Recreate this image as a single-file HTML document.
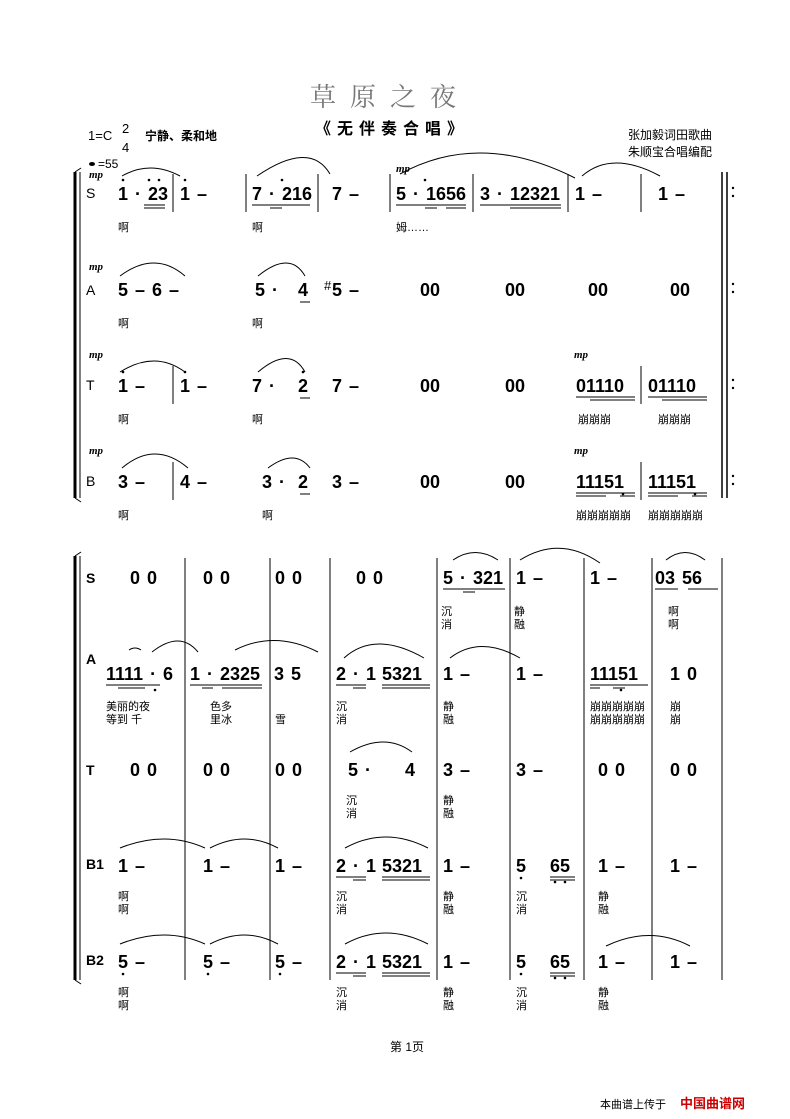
<!DOCTYPE html>
<html><head><meta charset="utf-8"><style>
html,body{margin:0;padding:0;background:#fff}
svg{display:block}
.n{font-family:"Liberation Sans",sans-serif;font-weight:bold;font-size:18px;fill:#000;white-space:pre;word-spacing:2px}
.l{font-family:"Liberation Sans","Noto Sans CJK SC",sans-serif;font-size:11px;fill:#000}
.d{font-family:"Liberation Serif",serif;font-style:italic;font-weight:bold;font-size:11px}
</style></head><body>
<svg width="790" height="1119" xmlns="http://www.w3.org/2000/svg" stroke="#000" fill="none">
<g stroke="none" fill="#000">
<text x="390" y="106" text-anchor="middle" style="font-family:'Noto Serif CJK SC',serif;font-size:26px;letter-spacing:14px;fill:#777">草原之夜</text>
<text x="392" y="134" text-anchor="middle" style="font-family:'Liberation Sans','Noto Sans CJK SC',sans-serif;font-size:16px;font-weight:bold;letter-spacing:6px">《无伴奏合唱》</text>
<text x="88" y="140" style="font-family:'Liberation Sans',sans-serif;font-size:13px">1=C</text>
<text x="122" y="133" style="font-family:'Liberation Sans',sans-serif;font-size:13px">2</text>
<text x="122" y="152" style="font-family:'Liberation Sans',sans-serif;font-size:13px">4</text>
<text x="145" y="140" style="font-family:'Noto Sans CJK SC',sans-serif;font-size:12px;font-weight:bold">宁静、柔和地</text>
<text x="628" y="139" class="l" style="font-size:12px">张加毅词田歌曲</text>
<text x="628" y="156" class="l" style="font-size:12px">朱顺宝合唱编配</text>
<ellipse cx="92" cy="164" rx="3" ry="2"/>
<text x="98" y="168" style="font-family:'Liberation Sans',sans-serif;font-size:12px">=55</text>
<text x="390" y="1051" class="l" style="font-size:12px">第 1页</text>
<text x="600" y="1108" class="l" style="font-size:11px">本曲谱上传于</text>
<text x="680" y="1108" style="font-family:'Noto Sans CJK SC',sans-serif;font-size:13px;font-weight:bold;fill:#c00">中国曲谱网</text>
</g>
<line x1="75" y1="172" x2="75" y2="498" stroke-width="3"/><line x1="80" y1="172" x2="80" y2="498"/>
<path d="M75 172 l6 -4 M75 498 l6 4"/>
<line x1="75" y1="556" x2="75" y2="980" stroke-width="3"/><line x1="80" y1="556" x2="80" y2="980"/>
<path d="M75 556 l6 -4 M75 980 l6 4"/>
<g>
<path d="M173 174V212 M246 174V212 M318 174V212 M390 174V212 M473 174V212 M568 174V212 M641 174V212"/>
<path d="M173 366V404 M641 366V404 M173 462V500 M641 462V500"/>
<path d="M722 172V498 M727 172V498" stroke-width="1.5"/>
</g>
<g stroke="none" fill="#000">
<circle cx="733" cy="188" r="1.2"/><circle cx="733" cy="196" r="1.2"/>
<circle cx="733" cy="284" r="1.2"/><circle cx="733" cy="292" r="1.2"/>
<circle cx="733" cy="380" r="1.2"/><circle cx="733" cy="388" r="1.2"/>
<circle cx="733" cy="476" r="1.2"/><circle cx="733" cy="484" r="1.2"/>
</g>
<g class="n" stroke="none">
<text x="86" y="198" style="font-weight:normal;font-size:14px">S</text>
<text x="118" y="200">1 · 23</text><text x="180" y="200">1  –</text>
<text x="252" y="200">7 · 216</text><text x="332" y="200">7  –</text>
<text x="396" y="200">5 · 1656</text><text x="480" y="200">3 · 12321</text>
<text x="575" y="200">1  –</text><text x="658" y="200">1  –</text>
<text x="86" y="295" style="font-weight:normal;font-size:14px">A</text>
<text x="118" y="296">5  –   6  –</text><text x="255" y="296">5 ·</text><text x="298" y="296">4</text>
<text x="324" y="290" style="font-size:13px;font-weight:normal">#</text><text x="332" y="296">5  –</text>
<text x="420" y="296">00</text><text x="505" y="296">00</text><text x="588" y="296">00</text><text x="670" y="296">00</text>
<text x="86" y="390" style="font-weight:normal;font-size:14px">T</text>
<text x="118" y="392">1  –</text><text x="180" y="392">1  –</text>
<text x="252" y="392">7 ·</text><text x="298" y="392">2</text><text x="332" y="392">7  –</text>
<text x="420" y="392">00</text><text x="505" y="392">00</text>
<text x="576" y="392">01110</text><text x="648" y="392">01110</text>
<text x="86" y="486" style="font-weight:normal;font-size:14px">B</text>
<text x="118" y="488">3  –</text><text x="180" y="488">4  –</text>
<text x="262" y="488">3 ·</text><text x="298" y="488">2</text><text x="332" y="488">3  –</text>
<text x="420" y="488">00</text><text x="505" y="488">00</text>
<text x="576" y="488">11151</text><text x="648" y="488">11151</text>
</g>
<g stroke="none" fill="#000">
<circle cx="123" cy="180" r="1.3"/><circle cx="149" cy="180" r="1.3"/><circle cx="159" cy="180" r="1.3"/><circle cx="185" cy="180" r="1.3"/>
<circle cx="282" cy="180" r="1.3"/><circle cx="425" cy="180" r="1.3"/>
<circle cx="123" cy="372" r="1.3"/><circle cx="185" cy="372" r="1.3"/><circle cx="303" cy="372" r="1.3"/>
<circle cx="623" cy="494" r="1.3"/><circle cx="695" cy="494" r="1.3"/>
</g>
<g class="d" stroke="none" fill="#000">
<text x="89" y="178">mp</text><text x="89" y="270">mp</text><text x="89" y="358">mp</text><text x="89" y="454">mp</text>
<text x="396" y="172">mp</text><text x="574" y="358">mp</text><text x="574" y="454">mp</text>
</g>
<path d="M144 205H165 M144 208H165 M252 205H310 M270 208H282 M396 205H466 M425 208H437 M446 208H466 M480 205H561 M510 208H561
M576 397H635 M590 400H635 M648 397H707 M662 400H707 M576 493H635 M576 496H606 M620 496H635 M648 493H707 M648 496H678 M692 496H707 M300 302H310 M300 398H310 M300 494H310"/>
<path d="M122 176Q150 160 180 176 M257 176Q310 140 330 174 M400 174Q480 130 575 178 M582 176Q612 150 660 176
M120 276Q155 250 185 276 M258 276Q290 250 305 276 M120 372Q155 350 185 372 M258 372Q290 345 305 372 M122 468Q155 440 188 468 M268 468Q295 448 310 468"/>
<g class="l" stroke="none">
<text x="118" y="231">啊</text><text x="252" y="231">啊</text><text x="396" y="231">姆……</text>
<text x="118" y="327">啊</text><text x="252" y="327">啊</text>
<text x="118" y="423">啊</text><text x="252" y="423">啊</text><text x="578" y="423">崩崩崩</text><text x="658" y="423">崩崩崩</text>
<text x="118" y="519">啊</text><text x="262" y="519">啊</text><text x="576" y="519">崩崩崩崩崩</text><text x="648" y="519">崩崩崩崩崩</text>
</g>
<path d="M185 558V980 M270 558V980 M330 558V980 M437 558V980 M510 558V980 M584 558V980 M652 558V980 M722 558V980"/>
<g class="n" stroke="none">
<text x="86" y="583" style="font-size:14px">S</text>
<text x="130" y="584">0  0</text><text x="203" y="584">0  0</text><text x="275" y="584">0     0</text><text x="356" y="584">0     0</text>
<text x="443" y="584">5 · 321</text><text x="516" y="584">1  –</text><text x="590" y="584">1  –</text><text x="655" y="584">03  56</text>
<text x="86" y="664" style="font-size:14px">A</text>
<text x="106" y="680">1111 · 6</text><text x="190" y="680">1 · 2325</text><text x="274" y="680">3     5</text>
<text x="336" y="680">2 · 1</text><text x="382" y="680">5321</text><text x="443" y="680">1  –</text><text x="516" y="680">1  –</text>
<text x="590" y="680">11151</text><text x="670" y="680">1  0</text>
<text x="86" y="775" style="font-size:14px">T</text>
<text x="130" y="776">0  0</text><text x="203" y="776">0  0</text><text x="275" y="776">0     0</text>
<text x="348" y="776">5 ·</text><text x="405" y="776">4</text><text x="443" y="776">3  –</text><text x="516" y="776">3  –</text>
<text x="598" y="776">0  0</text><text x="670" y="776">0  0</text>
<text x="86" y="869" style="font-size:14px">B1</text>
<text x="118" y="872">1  –</text><text x="203" y="872">1  –</text><text x="275" y="872">1  –</text>
<text x="336" y="872">2 · 1</text><text x="382" y="872">5321</text><text x="443" y="872">1  –</text>
<text x="516" y="872">5</text><text x="550" y="872">65</text><text x="598" y="872">1  –</text><text x="670" y="872">1  –</text>
<text x="86" y="965" style="font-size:14px">B2</text>
<text x="118" y="968">5  –</text><text x="203" y="968">5  –</text><text x="275" y="968">5  –</text>
<text x="336" y="968">2 · 1</text><text x="382" y="968">5321</text><text x="443" y="968">1  –</text>
<text x="516" y="968">5</text><text x="550" y="968">65</text><text x="598" y="968">1  –</text><text x="670" y="968">1  –</text>
</g>
<g stroke="none" fill="#000">
<circle cx="155" cy="690" r="1.3"/><circle cx="621" cy="690" r="1.3"/>
<circle cx="521" cy="878" r="1.3"/><circle cx="555" cy="882" r="1.3"/><circle cx="565" cy="882" r="1.3"/>
<circle cx="123" cy="974" r="1.3"/><circle cx="208" cy="974" r="1.3"/><circle cx="280" cy="974" r="1.3"/>
<circle cx="521" cy="974" r="1.3"/><circle cx="555" cy="978" r="1.3"/><circle cx="565" cy="978" r="1.3"/>
</g>
<path d="M443 589H505 M463 592H475 M655 589H678 M688 589H718
M106 685H160 M118 688H145 M190 685H262 M202 688H213 M222 688H262 M336 685H366 M353 688H366 M382 685H430 M382 688H430 M590 685H648 M590 688H600 M613 688H625
M336 877H366 M353 880H366 M382 877H430 M382 880H430 M550 877H575 M550 880H575
M336 973H366 M353 976H366 M382 973H430 M382 976H430 M550 973H575 M550 976H575"/>
<path d="M453 560Q475 545 498 560 M520 560Q560 535 600 563 M666 560Q685 545 705 560
M129 650Q135 646 141 650 M152 652Q180 630 198 652 M235 650Q275 630 318 652 M344 658Q375 630 424 658 M450 658Q480 635 520 658
M350 752Q385 732 412 752 M120 848Q165 830 205 848 M210 848Q245 830 278 848 M345 848Q385 826 428 848
M120 944Q165 926 205 944 M210 944Q245 926 278 944 M345 944Q385 922 428 944 M606 946Q650 925 690 946"/>
<g class="l" stroke="none">
<text x="441" y="615">沉</text><text x="441" y="628">消</text><text x="514" y="615">静</text><text x="514" y="628">融</text>
<text x="668" y="615">啊</text><text x="668" y="628">啊</text>
<text x="106" y="710">美丽的夜</text><text x="106" y="723">等到 千</text><text x="210" y="710">色多</text><text x="210" y="723">里冰</text>
<text x="275" y="723">雪</text><text x="336" y="710">沉</text><text x="336" y="723">消</text><text x="443" y="710">静</text><text x="443" y="723">融</text>
<text x="590" y="710">崩崩崩崩崩</text><text x="590" y="723">崩崩崩崩崩</text><text x="670" y="710">崩</text><text x="670" y="723">崩</text>
<text x="346" y="804">沉</text><text x="346" y="817">消</text><text x="443" y="804">静</text><text x="443" y="817">融</text>
<text x="118" y="900">啊</text><text x="118" y="913">啊</text><text x="336" y="900">沉</text><text x="336" y="913">消</text>
<text x="443" y="900">静</text><text x="443" y="913">融</text><text x="516" y="900">沉</text><text x="516" y="913">消</text>
<text x="598" y="900">静</text><text x="598" y="913">融</text>
<text x="118" y="996">啊</text><text x="118" y="1009">啊</text><text x="336" y="996">沉</text><text x="336" y="1009">消</text>
<text x="443" y="996">静</text><text x="443" y="1009">融</text><text x="516" y="996">沉</text><text x="516" y="1009">消</text>
<text x="598" y="996">静</text><text x="598" y="1009">融</text>
</g>
</svg>
</body></html>
